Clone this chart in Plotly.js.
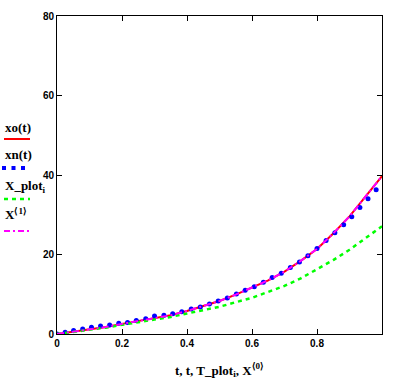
<!DOCTYPE html>
<html>
<head>
<meta charset="utf-8">
<script src="https://cdn.plot.ly/plotly-3.0.1.min.js"></script>
<style>html,body{margin:0;padding:0;background:#fff;}#chart{width:398px;height:380px;}</style>
</head>
<body>
<div id="chart"></div>
<script>
// xo(t): red solid curve
const t_xo = [0,0.05,0.1,0.15,0.2,0.25,0.3,0.35,0.4,0.45,0.5,0.55,0.6,0.65,0.7,0.75,0.8,0.85,0.9,0.95,1.0];
const xo   = [0,0.55,1.1,1.75,2.55,3.3,3.9,4.7,5.8,7.0,8.3,9.9,11.6,13.5,15.7,18.4,21.4,25.3,29.6,34.8,39.7];

// xn(t): blue dots
const t_xn = [0,0.025,0.051,0.079,0.106,0.134,0.162,0.19,0.217,0.244,0.273,0.30,0.329,0.356,0.384,0.413,0.441,0.469,0.496,0.524,0.552,0.579,0.607,0.635,0.662,0.69,0.718,0.746,0.772,0.80,0.828,0.855,0.882,0.907,0.932,0.957,0.982];
const xn   = [0,0.43,0.9,1.26,1.68,2.0,2.26,2.7,2.9,3.4,3.85,4.5,4.7,5.1,5.6,6.3,6.8,7.55,8.3,9.06,10.06,11.0,11.9,13.0,14.2,15.3,16.7,18.1,19.7,21.5,23.5,25.5,27.5,29.5,31.8,34.0,36.3];

// X_plot_i vs T_plot_i: green dashed curve
const T_plot = [0,0.05,0.1,0.15,0.2,0.25,0.3,0.35,0.4,0.45,0.5,0.55,0.6,0.65,0.7,0.75,0.8,0.85,0.9,0.95,1.0];
const X_plot = [0,0.5,1.1,1.6,2.3,2.95,3.5,4.3,5.15,6.0,6.85,8.0,9.1,10.6,12.1,14.0,16.2,18.6,21.2,24.2,27.1];

// X<1> vs X<0>: magenta dash-dot curve
const X0 = [0,0.05,0.1,0.15,0.2,0.25,0.3,0.35,0.4,0.45,0.5,0.55,0.6,0.65,0.7,0.75,0.8,0.85,0.9,0.95,1.0];
const X1 = [0,0.55,1.1,1.75,2.55,3.3,3.9,4.7,5.8,7.0,8.3,9.9,11.6,13.5,15.7,18.4,21.4,25.3,29.6,34.8,39.7];

const xTickVals = [0,0.2,0.4,0.6,0.8];
const xTickText = ["0","0.2","0.4","0.6","0.8"];
const yTickVals = [0,20,40,60,80];
const yTickText = ["0","20","40","60","80"];

const legendLabels = ["xo(t)","xn(t)","X_plot<sub>i</sub>","X<sup>⟨1⟩</sup>"];
const xTitle = "t, t, T_plot<sub>i</sub>, X<sup>⟨0⟩</sup>";

const RED = "#ff0000", BLUE = "#0000ff", GREEN = "#00ff00", MAGENTA = "#ff00ff";

const traces = [
  {x: t_xo, y: xo, mode: "lines", line: {color: RED, width: 2}, name: "xo(t)", showlegend: false},
  {x: t_xn, y: xn, mode: "markers", marker: {color: BLUE, size: 5, symbol: "circle"}, name: "xn(t)", showlegend: false},
  {x: T_plot, y: X_plot, mode: "lines", line: {color: GREEN, width: 2.5, dash: "4px,4px"}, name: "X_plot", showlegend: false},
  {x: X0, y: X1, mode: "lines", line: {color: MAGENTA, width: 2, dash: "7px,3px,2px,3px"}, name: "X<1>", showlegend: false}
];

const L = 57, T = 16, W = 325, H = 318;
function px(x){ return (x - L) / W; }
function py(y){ return (T + H - y) / H; }

const serif = {family: "Liberation Serif, Times New Roman, serif", size: 13, color: "#000", weight: "bold"};
const legendY = [127, 154, 186, 214];
const annotations = legendLabels.map((txt, i) => ({
  text: "<b>" + txt + "</b>", xref: "paper", yref: "paper", x: px(3), y: py(legendY[i]),
  xanchor: "left", yanchor: "middle", showarrow: false, font: serif
}));

const shapes = [
  {type: "line", xref: "paper", yref: "paper", x0: px(4), x1: px(30), y0: py(139), y1: py(139), line: {color: RED, width: 2}},
  {type: "line", xref: "paper", yref: "paper", x0: px(2), x1: px(26), y0: py(168), y1: py(168), line: {color: BLUE, width: 4, dash: "4px,5.5px"}},
  {type: "line", xref: "paper", yref: "paper", x0: px(4), x1: px(30), y0: py(199), y1: py(199), line: {color: GREEN, width: 2.5, dash: "4px,4px"}},
  {type: "line", xref: "paper", yref: "paper", x0: px(4), x1: px(30), y0: py(231), y1: py(231), line: {color: MAGENTA, width: 2, dash: "6px,3px,2px,3px"}}
];

const tickFont = {family: "Liberation Sans, Arial, sans-serif", size: 10, color: "#000", weight: "bold"};

const layout = {
  width: 398, height: 380,
  margin: {l: L, r: 398 - L - W, t: T, b: 380 - T - H, pad: 0},
  paper_bgcolor: "#fff", plot_bgcolor: "#fff",
  showlegend: false,
  xaxis: {
    range: [0, 1.0], tickvals: xTickVals, ticktext: xTickText,
    ticks: "inside", ticklen: 5, tickcolor: "#000", tickwidth: 1,
    showline: true, linecolor: "#000", linewidth: 1, mirror: "ticks",
    showgrid: false, zeroline: false, tickfont: tickFont,
    title: {text: "<b>" + xTitle + "</b>", font: serif, standoff: 17}
  },
  yaxis: {
    range: [0, 80], tickvals: yTickVals, ticktext: yTickText,
    ticks: "inside", ticklen: 5, tickcolor: "#000", tickwidth: 1,
    showline: true, linecolor: "#000", linewidth: 1, mirror: "ticks",
    showgrid: false, zeroline: false, tickfont: tickFont
  },
  annotations: annotations,
  shapes: shapes
};

Plotly.newPlot("chart", traces, layout, {displayModeBar: false, staticPlot: true});
</script>
</body>
</html>
